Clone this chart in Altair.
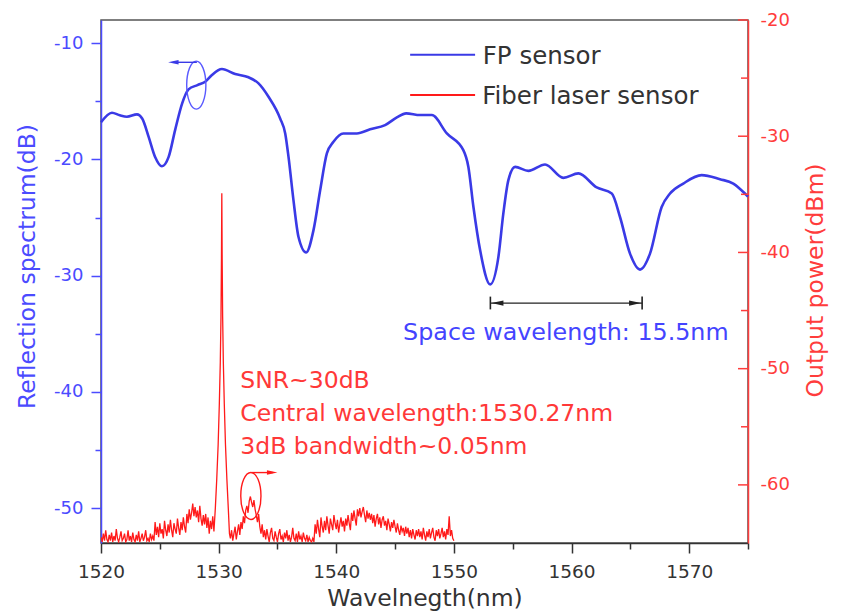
import altair as alt
import pandas as pd

# ---------------- data ----------------
fp_wavelength = [1520.0, 1520.93, 1521.6, 1522.2, 1523.06, 1523.5, 1524.05, 1524.6, 1525.18, 1525.75,
                 1526.3, 1526.9, 1527.44, 1528.2, 1528.86, 1529.43, 1530.28, 1531.41, 1532.54, 1533.39,
                 1534.24, 1535.23, 1535.66, 1535.94, 1536.36, 1536.79, 1537.44, 1538.06, 1538.63, 1539.2,
                 1539.76, 1540.6, 1541.75, 1542.88, 1544.15, 1545.15, 1545.94, 1547.13, 1548.12, 1549.4,
                 1550.8, 1551.23, 1551.66, 1552.23, 1553.08, 1553.78, 1554.2, 1554.63, 1555.2, 1556.33,
                 1557.75, 1559.3, 1560.58, 1562.14, 1563.42, 1564.12, 1564.97, 1565.82, 1566.67, 1567.66,
                 1568.37, 1569.5, 1571.06, 1572.62, 1573.75, 1574.74, 1575.0]
fp_reflection = [-16.8, -15.98, -16.2, -16.33, -16.12, -16.47, -18.05, -19.78, -20.58, -19.78,
                 -17.47, -15.17, -13.97, -13.6, -13.31, -12.73, -12.22, -12.65, -12.93, -13.45,
                 -14.6, -16.47, -17.76, -19.78, -23.5, -26.67, -28.0, -26.1, -22.65, -19.48,
                 -18.48, -17.76, -17.76, -17.41, -17.04, -16.38, -16.03, -16.18, -16.18, -17.76,
                 -19.2, -20.64, -24.09, -27.82, -30.75, -28.4, -24.66, -21.78, -20.64, -20.98,
                 -20.43, -21.58, -21.2, -22.41, -22.93, -24.95, -28.1, -29.48, -28.1, -24.09,
                 -22.93, -22.07, -21.35, -21.7, -22.07, -22.93, -23.2]

laser_wavelength = [
    1520.0, 1520.1, 1520.2, 1520.3, 1520.4, 1520.5, 1520.6, 1520.7, 1520.8, 1520.9,
    1521.0, 1521.1, 1521.2, 1521.3, 1521.4, 1521.5, 1521.6, 1521.7, 1521.8, 1521.9,
    1522.0, 1522.1, 1522.2, 1522.3, 1522.4, 1522.5, 1522.6, 1522.7, 1522.8, 1522.9,
    1523.0, 1523.1, 1523.2, 1523.3, 1523.4, 1523.5, 1523.6, 1523.7, 1523.8, 1523.9,
    1524.0, 1524.1, 1524.2, 1524.3, 1524.4, 1524.5, 1524.6, 1524.7, 1524.8, 1524.9,
    1525.0, 1525.1, 1525.2, 1525.3, 1525.4, 1525.5, 1525.6, 1525.7, 1525.8, 1525.9,
    1526.0, 1526.1, 1526.2, 1526.3, 1526.4, 1526.5, 1526.6, 1526.7, 1526.8, 1526.9,
    1527.0, 1527.1, 1527.2, 1527.3, 1527.4, 1527.5, 1527.6, 1527.7, 1527.8, 1527.9,
    1528.0, 1528.1, 1528.2, 1528.3, 1528.4, 1528.5, 1528.6, 1528.7, 1528.8, 1528.9,
    1529.0, 1529.1, 1529.2, 1529.3, 1529.4, 1529.5, 1529.6,
    1529.72, 1529.84, 1529.96, 1530.06, 1530.14, 1530.2, 1530.24, 1530.27, 1530.3, 1530.34,
    1530.4, 1530.48, 1530.58, 1530.7, 1530.82, 1530.92,
    1531.0, 1531.1, 1531.2, 1531.3, 1531.4, 1531.5, 1531.6, 1531.7, 1531.8, 1531.9,
    1532.0, 1532.1, 1532.2, 1532.3, 1532.4, 1532.5, 1532.6, 1532.7, 1532.8, 1532.9,
    1533.0, 1533.1, 1533.2, 1533.3, 1533.4, 1533.5, 1533.6, 1533.7, 1533.8, 1533.9,
    1534.0, 1534.1, 1534.2, 1534.3, 1534.4, 1534.5, 1534.6, 1534.7, 1534.8, 1534.9,
    1535.0, 1535.1, 1535.2, 1535.3, 1535.4, 1535.5, 1535.6, 1535.7, 1535.8, 1535.9,
    1536.0, 1536.1, 1536.2, 1536.3, 1536.4, 1536.5, 1536.6, 1536.7, 1536.8, 1536.9,
    1537.0, 1537.1, 1537.2, 1537.3, 1537.4, 1537.5, 1537.6, 1537.7, 1537.8, 1537.9,
    1538.0, 1538.1, 1538.2, 1538.3, 1538.4, 1538.5, 1538.6, 1538.7, 1538.8, 1538.9,
    1539.0, 1539.1, 1539.2, 1539.3, 1539.4, 1539.5, 1539.6, 1539.7, 1539.8, 1539.9,
    1540.0, 1540.1, 1540.2, 1540.3, 1540.4, 1540.5, 1540.6, 1540.7, 1540.8, 1540.9,
    1541.0, 1541.1, 1541.2, 1541.3, 1541.4, 1541.5, 1541.6, 1541.7, 1541.8, 1541.9,
    1542.0, 1542.1, 1542.2, 1542.3, 1542.4, 1542.5, 1542.6, 1542.7, 1542.8, 1542.9,
    1543.0, 1543.1, 1543.2, 1543.3, 1543.4, 1543.5, 1543.6, 1543.7, 1543.8, 1543.9,
    1544.0, 1544.1, 1544.2, 1544.3, 1544.4, 1544.5, 1544.6, 1544.7, 1544.8, 1544.9,
    1545.0, 1545.1, 1545.2, 1545.3, 1545.4, 1545.5, 1545.6, 1545.7, 1545.8, 1545.9,
    1546.0, 1546.1, 1546.2, 1546.3, 1546.4, 1546.5, 1546.6, 1546.7, 1546.8, 1546.9,
    1547.0, 1547.1, 1547.2, 1547.3, 1547.4, 1547.5, 1547.6, 1547.7, 1547.8, 1547.9,
    1548.0, 1548.1, 1548.2, 1548.3, 1548.4, 1548.5, 1548.6, 1548.7, 1548.8, 1548.9,
    1549.0, 1549.1, 1549.2, 1549.3, 1549.4, 1549.5, 1549.6, 1549.7, 1549.8, 1549.9,
    1550.0]
laser_power = [
    -64.5, -64.9, -64.2, -64.8, -63.9, -64.7, -64.9, -64.3, -64.8, -64.1,
    -64.9, -64.4, -64.8, -63.8, -64.6, -64.9, -64.5, -64.0, -64.8, -64.6,
    -64.2, -64.9, -64.7, -63.9, -64.8, -64.4, -64.9, -64.1, -64.7, -64.9,
    -64.3, -64.8, -64.0, -64.9, -64.6, -64.2, -64.8, -64.5, -63.9, -64.8,
    -64.6, -64.9, -64.2, -64.7, -64.4, -64.8, -63.2, -64.3, -63.6, -64.5,
    -63.3, -64.2, -63.8, -64.6, -63.1, -63.9, -64.4, -63.4, -64.1, -63.0,
    -63.9, -64.5, -63.3, -63.8, -64.2, -62.9, -63.7, -64.3, -63.2, -63.9,
    -62.8, -63.6, -64.1, -62.5, -63.3, -62.1, -63.0, -62.4, -61.6, -62.7,
    -61.9, -62.8, -62.2, -63.2, -61.8, -62.9, -63.5, -62.6, -63.4, -62.5,
    -63.7, -62.8, -64.2, -63.1, -63.8, -62.7, -64.0,
    -62.0, -59.5, -56.5, -53.0, -49.5, -45.5, -40.5, -34.9, -40.5, -45.5,
    -49.5, -53.0, -56.5, -59.5, -62.0, -64.2,
    -64.6, -63.9, -64.8, -64.2, -63.6, -64.7, -64.0, -63.4, -64.3, -63.2,
    -63.8, -62.7, -63.3, -62.2, -61.8, -62.4, -61.4, -61.0, -61.5, -61.9,
    -61.3, -62.1, -62.6, -63.2, -62.5, -63.6, -64.2, -63.4, -64.5, -63.9,
    -64.7, -63.8, -64.4, -64.9, -64.1, -63.7, -64.6, -64.8, -64.0, -64.5,
    -64.9, -64.2, -63.8, -64.7, -64.4, -64.9, -64.1, -64.6, -63.9, -64.8,
    -64.3, -64.9, -64.5, -63.7, -64.6, -64.8, -64.2, -64.9, -64.0, -64.7,
    -64.4, -64.9, -64.1, -64.6, -64.8, -64.3, -64.9, -64.5, -64.8, -64.9,
    -64.6, -64.9, -63.4, -64.2, -63.0, -63.8, -64.5, -62.8, -63.6, -64.1,
    -63.1, -63.9, -62.7, -63.5, -64.2, -62.9, -63.4, -63.9, -62.6, -63.3,
    -63.8, -63.0, -64.1, -63.4, -62.8, -63.6, -63.1, -64.0, -62.9, -63.5,
    -62.6, -63.3, -63.9, -62.4, -63.1, -62.2, -62.9, -63.5, -62.1, -62.7,
    -62.0, -62.8, -62.3, -61.9, -62.6, -63.2, -62.2, -62.9, -62.4, -63.0,
    -62.5, -63.3, -62.6, -63.6, -62.9, -62.5, -63.4, -62.8, -63.7, -63.0,
    -62.7, -63.5, -63.1, -63.9, -62.9, -63.4, -64.0, -63.2, -63.7, -63.0,
    -63.6, -64.1, -63.3, -63.9, -64.3, -63.5, -64.0, -63.7, -64.4, -63.6,
    -64.2, -63.7, -64.5, -63.9, -64.6, -63.8, -64.3, -64.7, -63.9, -64.4,
    -63.8, -64.5, -64.0, -64.7, -63.7, -64.3, -64.8, -64.0, -64.5, -63.8,
    -64.6, -64.1, -63.7, -64.5, -64.8, -63.9, -64.4, -63.8, -64.6, -64.2,
    -63.7, -64.5, -64.0, -64.7, -63.8, -64.3, -62.7, -64.4, -63.9, -64.6,
    -64.8]

x_tick_values = [1520, 1525, 1530, 1535, 1540, 1545, 1550, 1555, 1560, 1565, 1570, 1575]
left_tick_values = [-50, -45, -40, -35, -30, -25, -20, -15, -10]
right_major_ticks = [-60, -50, -40, -30, -20]
right_minor_ticks = [-55, -45, -35, -25]

series_names = ["FP sensor", "Fiber laser sensor"]
snr_lines = ["SNR~30dB", "Central wavelength:1530.27nm", "3dB bandwidth~0.05nm"]
space_label = "Space wavelength: 15.5nm"

# ---------------- styling ----------------
W, H = 647, 523
FONT = "DejaVu Sans"
BLUE_AX = "#4b4bff"
BLUE_LINE = "#3a3ae6"
RED_AX = "#ff3c3c"
RED_LINE = "#ff1a1a"
RED_TEXT = "#ff3838"
DARK = "#333333"

tick_cond = {"condition": {"test": "datum.value % 10 === 0", "value": 10}, "value": 6}
major_label = "datum.value % 10 === 0 ? toString(datum.value) : ''"

x_enc = alt.X("x:Q",
              scale=alt.Scale(domain=[1520, 1575], nice=False, zero=False),
              axis=alt.Axis(values=x_tick_values, labelExpr=major_label, tickSize=tick_cond,
                            tickColor=DARK, domainColor=DARK, domainWidth=1.5, tickWidth=1.5,
                            labelColor=DARK, labelFontSize=18.5, labelPadding=9, labelFlush=False,
                            labelOverlap=False, grid=False,
                            title="Wavelnegth(nm)", titleFontSize=23.5, titleColor=DARK,
                            titleY=62, titleBaseline="alphabetic"))

y_left = alt.Y("y:Q",
               scale=alt.Scale(domain=[-53, -8], nice=False, zero=False),
               axis=alt.Axis(orient="left", values=left_tick_values, labelExpr=major_label,
                             tickSize=tick_cond, tickColor=BLUE_AX, domainColor=BLUE_AX,
                             domainWidth=1.5, tickWidth=1.5, labelColor=BLUE_AX, labelFontSize=18,
                             labelPadding=8, grid=False, labelFlush=False,
                             title="Reflection spectrum(dB)", titleColor=BLUE_AX, titleFontSize=23.5,
                             titleAngle=270, titleX=-74, titleY=246, titleAlign="center",
                             titleBaseline="middle"))

y_right = alt.Y("y:Q",
                scale=alt.Scale(domain=[-65, -20], nice=False, zero=False),
                axis=alt.Axis(orient="right", values=right_major_ticks,
                              labelExpr="toString(datum.value)", ticks=False, tickSize=0,
                              domainColor=RED_AX, domainWidth=1.5, labelColor=RED_AX,
                              labelFontSize=18, labelPadding=12, grid=False, labelFlush=False,
                              title="Output power(dBm)", titleColor=RED_AX, titleFontSize=23.5,
                              titleAngle=270, titleX=67, titleY=260, titleAlign="center",
                              titleBaseline="middle"))

ELLIPSE_BLUE = "M0,-1C0.22,-1,0.4,-0.55,0.4,0C0.4,0.55,0.22,1,0,1C-0.22,1,-0.4,0.55,-0.4,0C-0.4,-0.55,-0.22,-1,0,-1Z"
ELLIPSE_RED = "M0,-1C0.24,-1,0.43,-0.55,0.43,0C0.43,0.55,0.24,1,0,1C-0.24,1,-0.43,0.55,-0.43,0C-0.43,-0.55,-0.24,-1,0,-1Z"
HEAD_LEFT = "M-1,0L1,-0.42L1,0.42Z"
HEAD_RIGHT = "M1,0L-1,-0.42L-1,0.42Z"

# ---------------- blue (left axis) layer ----------------
fp_df = pd.DataFrame({"x": fp_wavelength, "y": fp_reflection})
fp_line = alt.Chart(fp_df).mark_line(color=BLUE_LINE, strokeWidth=2.6, interpolate="monotone").encode(
    x=x_enc, y=y_left)

legend_lines_df = pd.DataFrame({"x": [1546.28, 1546.28], "x2": [1551.8, 1551.8], "y": [-11.0, -14.45],
                                "s": series_names})
legend_lines = alt.Chart(legend_lines_df).mark_rule(strokeWidth=2).encode(
    x=x_enc, x2="x2:Q", y=y_left,
    color=alt.Color("s:N", scale=alt.Scale(domain=series_names, range=[BLUE_LINE, RED_LINE]), legend=None))
legend_text_df = pd.DataFrame({"x": [1552.45, 1552.4], "y": [-11.78, -15.2], "t": series_names})
legend_text = alt.Chart(legend_text_df).mark_text(align="left", baseline="alphabetic", font=FONT,
                                                  fontSize=24.5, color=DARK).encode(
    x=x_enc, y=y_left, text="t:N")

blue_ell = alt.Chart(pd.DataFrame({"x": [1528.1], "y": [-13.6]})).mark_point(
    shape=ELLIPSE_BLUE, size=2304, filled=False, color="#5a5aff", strokeWidth=1.4, opacity=1).encode(
    x=x_enc, y=y_left)
blue_arrow = alt.Chart(pd.DataFrame({"x": [1526.1], "x2": [1528.15], "y": [-11.64]})).mark_rule(
    color=BLUE_LINE, strokeWidth=1.4).encode(x=x_enc, x2="x2:Q", y=y_left)
blue_head = alt.Chart(pd.DataFrame({"x": [1526.15], "y": [-11.64]})).mark_point(
    shape=HEAD_LEFT, size=110, filled=True, color=BLUE_LINE, opacity=1).encode(x=x_enc, y=y_left)

span_line = alt.Chart(pd.DataFrame({"x": [1553.1], "x2": [1566.0], "y": [-32.36]})).mark_rule(
    color="#222222", strokeWidth=1.2).encode(x=x_enc, x2="x2:Q", y=y_left)
span_bars = alt.Chart(pd.DataFrame({"x": [1553.1, 1566.0], "y": [-31.8, -31.8], "y2": [-32.9, -32.9]})).mark_rule(
    color="#222222", strokeWidth=1.6).encode(x=x_enc, y=y_left, y2="y2:Q")
span_heads = alt.Chart(pd.DataFrame({"x": [1553.7, 1565.4], "y": [-32.36, -32.36],
                                     "h": ["l", "r"]})).mark_point(
    size=144, filled=True, color="#222222", opacity=1).encode(
    x=x_enc, y=y_left,
    shape=alt.Shape("h:N", scale=alt.Scale(domain=["l", "r"], range=[HEAD_LEFT, HEAD_RIGHT]), legend=None))
span_text = alt.Chart(pd.DataFrame({"x": [1545.68], "y": [-35.52], "t": [space_label]})).mark_text(
    align="left", baseline="alphabetic", font=FONT, fontSize=23.8, color="#4444ff").encode(
    x=x_enc, y=y_left, text="t:N")

blue_layer = alt.layer(fp_line, legend_lines, legend_text, blue_ell, blue_arrow, blue_head,
                       span_line, span_bars, span_heads, span_text)

# ---------------- red (right axis) layer ----------------
laser_df = pd.DataFrame({"x": laser_wavelength, "y": laser_power})
laser_line = alt.Chart(laser_df).mark_line(color=RED_LINE, strokeWidth=1.3, clip=True).encode(
    x=x_enc, y=y_right)

snr_df = pd.DataFrame({"x": [1531.84] * 3, "y": [-51.66, -54.48, -57.35], "t": snr_lines})
snr_text = alt.Chart(snr_df).mark_text(align="left", baseline="alphabetic", font=FONT, fontSize=23.5,
                                       color=RED_TEXT).encode(x=x_enc, y=y_right, text="t:N")

red_ell = alt.Chart(pd.DataFrame({"x": [1532.74], "y": [-60.95]})).mark_point(
    shape=ELLIPSE_RED, size=2209, filled=False, color=RED_LINE, strokeWidth=1.4, opacity=1).encode(
    x=x_enc, y=y_right)
red_arrow = alt.Chart(pd.DataFrame({"x": [1532.8], "x2": [1534.6], "y": [-58.94]})).mark_rule(
    color=RED_LINE, strokeWidth=1.4).encode(x=x_enc, x2="x2:Q", y=y_right)
red_head = alt.Chart(pd.DataFrame({"x": [1534.55], "y": [-58.94]})).mark_point(
    shape=HEAD_RIGHT, size=110, filled=True, color=RED_LINE, opacity=1).encode(x=x_enc, y=y_right)

rt_major = alt.Chart(pd.DataFrame({"y": right_major_ticks})).mark_rule(color=RED_AX, strokeWidth=1.5).encode(
    y=y_right, x=alt.value(W - 10), x2=alt.value(W))
rt_minor = alt.Chart(pd.DataFrame({"y": right_minor_ticks})).mark_rule(color=RED_AX, strokeWidth=1.5).encode(
    y=y_right, x=alt.value(W - 7), x2=alt.value(W))

red_layer = alt.layer(laser_line, snr_text, red_ell, red_arrow, red_head, rt_major, rt_minor)

chart = alt.layer(blue_layer, red_layer).resolve_scale(y="independent").properties(
    width=W, height=H,
    padding={"left": 93, "top": 12, "right": 100, "bottom": 71},
    autosize=alt.AutoSizeParams(type="none"),
).configure_view(stroke="#555555", strokeWidth=1.5).configure_axis(
    labelFont=FONT, titleFont=FONT, titleFontWeight="normal")

chart.save("out.html", embed_options={"renderer": "svg", "actions": False})
